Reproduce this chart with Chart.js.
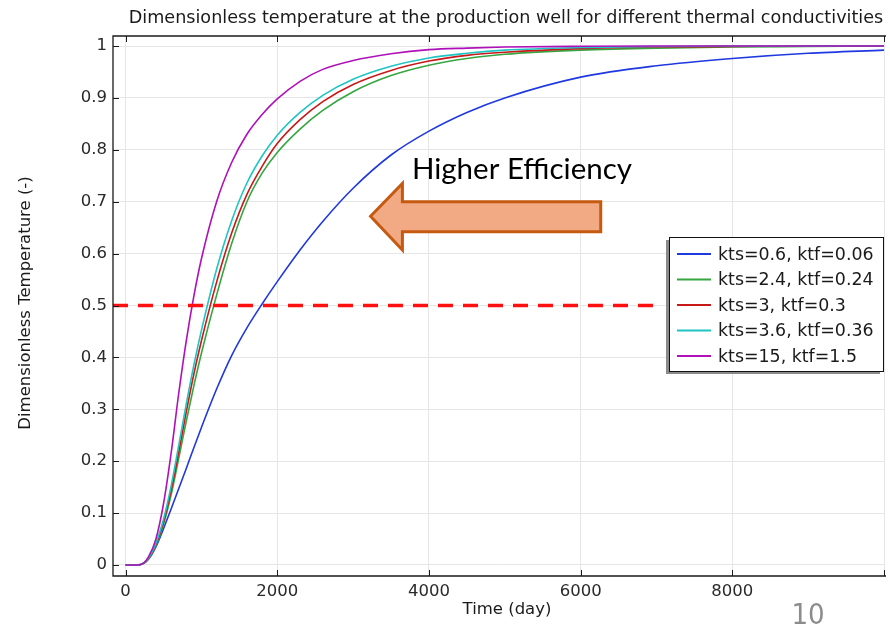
<!DOCTYPE html>
<html>
<head>
<meta charset="utf-8">
<script src="https://cdn.jsdelivr.net/npm/chart.js@4/dist/chart.umd.min.js"></script>
<style>
  html, body { margin: 0; padding: 0; background: #fff; }
  #wrap { width: 890px; height: 624px; }
</style>
</head>
<body>
<div id="wrap"><canvas id="chartTemp" width="890" height="624"></canvas></div>
<script>
// ── Data ─────────────────────────────────────────────────
const days = [0, 100, 200, 300, 400, 500, 600, 700, 800, 900, 1000, 1200, 1400, 1600, 1800,
  2000, 2300, 2600, 3000, 3500, 4000, 4500, 5000, 6000, 7000, 8000, 9000, 10000];

const kts06 = [0, 0, 0.001, 0.011, 0.035, 0.07, 0.108, 0.147, 0.186, 0.226, 0.265, 0.339, 0.404, 0.457, 0.503,
  0.546, 0.607, 0.662, 0.726, 0.79, 0.836, 0.872, 0.9, 0.94, 0.962, 0.976, 0.986, 0.992];
const kts24 = [0, 0, 0.001, 0.011, 0.037, 0.078, 0.135, 0.205, 0.277, 0.345, 0.408, 0.52, 0.62, 0.7, 0.755,
  0.795, 0.84, 0.876, 0.912, 0.943, 0.963, 0.976, 0.984, 0.992, 0.996, 0.998, 0.999, 1];
const kts3 = [0, 0, 0.001, 0.012, 0.04, 0.083, 0.143, 0.217, 0.295, 0.368, 0.432, 0.545, 0.64, 0.714, 0.768,
  0.812, 0.858, 0.893, 0.926, 0.953, 0.971, 0.982, 0.988, 0.995, 0.998, 0.999, 1, 1];
const kts36 = [0, 0, 0.001, 0.013, 0.042, 0.088, 0.152, 0.23, 0.31, 0.385, 0.452, 0.57, 0.664, 0.736, 0.788,
  0.828, 0.872, 0.905, 0.936, 0.961, 0.977, 0.986, 0.992, 0.997, 0.999, 1, 1, 1];
const kts15 = [0, 0, 0.001, 0.015, 0.05, 0.118, 0.215, 0.33, 0.432, 0.518, 0.59, 0.7, 0.776, 0.83, 0.868,
  0.898, 0.932, 0.955, 0.972, 0.985, 0.993, 0.996, 0.998, 0.9995, 1, 1, 1, 1];

const seriesLabels = ["kts=0.6, ktf=0.06", "kts=2.4, ktf=0.24", "kts=3, ktf=0.3", "kts=3.6, ktf=0.36", "kts=15, ktf=1.5"];
const seriesColors = ["#2038e0", "#35a640", "#c81818", "#1fc4c4", "#b010b8"];

const thresholdX = [-166, 7000];
const thresholdY = [0.5, 0.5];

const xTicks = [0, 2000, 4000, 6000, 8000, 10000];
const yTicks = [0, 0.1, 0.2, 0.3, 0.4, 0.5, 0.6, 0.7, 0.8, 0.9, 1];
const yTickLabels = ["0", "0.1", "0.2", "0.3", "0.4", "0.5", "0.6", "0.7", "0.8", "0.9", "1"];

const FONT = '"DejaVu Sans", sans-serif';

const toPoints = (ys) => days.map((d, i) => ({ x: d, y: ys[i] }));
const allSeries = [kts06, kts24, kts3, kts36, kts15];

const datasets = allSeries.map((ys, i) => ({
  label: seriesLabels[i],
  data: toPoints(ys),
  borderColor: seriesColors[i],
  borderWidth: 1.6,
  pointRadius: 0,
  cubicInterpolationMode: "monotone",
  fill: false,
  order: allSeries.length - i,
}));

datasets.push({
  label: "threshold",
  data: thresholdX.map((x, i) => ({ x, y: thresholdY[i] })),
  borderColor: "#ff1010",
  borderWidth: 3.5,
  borderDash: [15, 10],
  pointRadius: 0,
  fill: false,
  order: -1,
});

// ── Frame, inner ticks, titles, legend, annotation ──────
const decorations = {
  id: "decorations",
  afterDraw(chart) {
    const { ctx, chartArea: a, scales } = chart;
    const sx = scales.x, sy = scales.y;
    ctx.save();

    // frame
    ctx.strokeStyle = "#1a1a1a";
    ctx.lineWidth = 1.3;
    ctx.beginPath();
    ctx.moveTo(a.right + 2, a.top);
    ctx.lineTo(a.left, a.top);
    ctx.lineTo(a.left, a.bottom);
    ctx.lineTo(a.right + 2, a.bottom);
    ctx.stroke();

    // inner tick marks
    ctx.lineWidth = 1;
    ctx.beginPath();
    xTicks.forEach((v) => {
      const px = Math.round(sx.getPixelForValue(v)) + 0.5;
      ctx.moveTo(px, a.bottom); ctx.lineTo(px, a.bottom - 6);
      ctx.moveTo(px, a.top); ctx.lineTo(px, a.top + 6);
    });
    yTicks.forEach((v) => {
      const py = Math.round(sy.getPixelForValue(v)) + 0.5;
      ctx.moveTo(a.left, py); ctx.lineTo(a.left + 6, py);
    });
    ctx.stroke();

    // titles
    ctx.fillStyle = "#1a1a1a";
    ctx.textAlign = "center";
    ctx.textBaseline = "alphabetic";
    ctx.font = "17.6px " + FONT;
    ctx.fillText("Dimensionless temperature at the production well for different thermal conductivities", 506, 23);
    ctx.font = "16.5px " + FONT;
    ctx.fillText("Time (day)", 507, 614);
    ctx.save();
    ctx.translate(30, 303);
    ctx.rotate(-Math.PI / 2);
    ctx.fillText("Dimensionless Temperature (-)", 0, 0);
    ctx.restore();

    // annotation arrow (data units)
    const ax = (v) => sx.getPixelForValue(v);
    const ay = (v) => sy.getPixelForValue(v);
    ctx.beginPath();
    ctx.moveTo(ax(3230), ay(0.672));
    ctx.lineTo(ax(3650), ay(0.735));
    ctx.lineTo(ax(3650), ay(0.70));
    ctx.lineTo(ax(6265), ay(0.70));
    ctx.lineTo(ax(6265), ay(0.642));
    ctx.lineTo(ax(3650), ay(0.642));
    ctx.lineTo(ax(3650), ay(0.607));
    ctx.closePath();
    ctx.fillStyle = "#f2aa84";
    ctx.fill();
    ctx.strokeStyle = "#c55a11";
    ctx.lineWidth = 3;
    ctx.lineJoin = "miter";
    ctx.stroke();

    ctx.fillStyle = "#000";
    ctx.textAlign = "left";
    ctx.font = '29.5px Lato, "Open Sans", sans-serif';
    ctx.fillText("Higher Efficiency", ax(3775), ay(0.743));

    // legend box
    const lx = 669, ly = 237, lw = 214, lh = 134;
    ctx.fillStyle = "#8a8a8a";
    ctx.fillRect(lx - 3, ly + 3, lw, lh);
    ctx.fillStyle = "#fff";
    ctx.fillRect(lx, ly, lw, lh);
    ctx.strokeStyle = "#111";
    ctx.lineWidth = 1;
    ctx.strokeRect(lx + 0.5, ly + 0.5, lw, lh);
    ctx.font = "17.4px " + FONT;
    ctx.textBaseline = "middle";
    seriesLabels.forEach((lab, i) => {
      const ry = 254 + i * 25.5;
      ctx.strokeStyle = seriesColors[i];
      ctx.lineWidth = 1.8;
      ctx.beginPath();
      ctx.moveTo(677, ry); ctx.lineTo(711, ry);
      ctx.stroke();
      ctx.fillStyle = "#1a1a1a";
      ctx.fillText(lab, 718, ry + 1);
    });

    // slide number
    ctx.fillStyle = "#8c8c8c";
    ctx.textAlign = "center";
    ctx.textBaseline = "alphabetic";
    ctx.font = '29px "Liberation Sans Narrow", "DejaVu Sans Condensed", sans-serif';
    ctx.fillText("10", 808, 624);

    ctx.restore();
  },
};

new Chart(document.getElementById("chartTemp"), {
  type: "line",
  data: { datasets },
  options: {
    responsive: false,
    animation: false,
    devicePixelRatio: 1,
    layout: { padding: { top: 36, right: 2, left: 0, bottom: 0 } },
    plugins: { legend: { display: false }, tooltip: { enabled: false } },
    scales: {
      x: {
        type: "linear",
        min: -166,
        max: 10000,
        afterBuildTicks: (s) => { s.ticks = xTicks.map((v) => ({ value: v })); },
        afterFit: (s) => { s.height = 48; },
        grid: { color: "#e6e6e6", drawTicks: false },
        border: { display: false },
        ticks: {
          autoSkip: false,
          maxRotation: 0,
          padding: 6,
          color: "#2a2a2a",
          font: { family: FONT, size: 16.5 },
          callback: (v) => (v === 10000 ? "" : String(v)),
        },
      },
      y: {
        type: "linear",
        min: -0.0212,
        max: 1.0193,
        afterBuildTicks: (s) => { s.ticks = yTicks.map((v) => ({ value: v })); },
        afterFit: (s) => { s.width = 113; },
        grid: { color: "#e6e6e6", drawTicks: false },
        border: { display: false },
        ticks: {
          autoSkip: false,
          padding: 6,
          color: "#2a2a2a",
          font: { family: FONT, size: 16.5 },
          callback: (v, i) => yTickLabels[i],
        },
      },
    },
  },
  plugins: [decorations],
});
</script>
</body>
</html>
